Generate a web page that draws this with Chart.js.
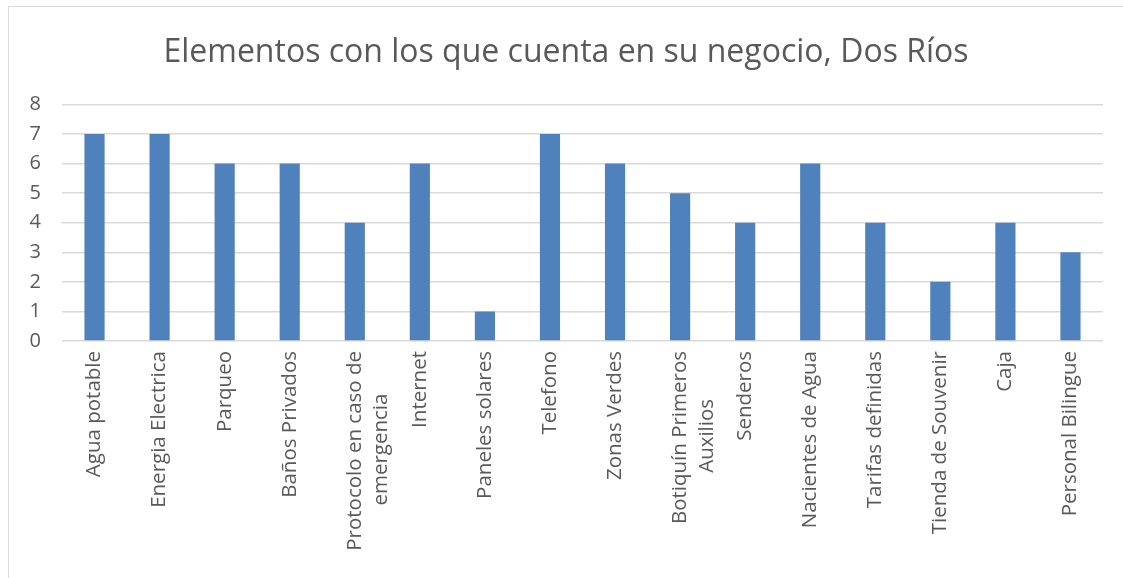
<!DOCTYPE html>
<html>
<head>
<meta charset="utf-8">
<script src="https://cdn.jsdelivr.net/npm/chart.js@4"></script>
<style>
  html, body { margin: 0; padding: 0; background: #ffffff; }
  #frame {
    position: absolute; left: 8px; top: 6px;
    width: 1114px; height: 571px;
    border-top: 1px solid #d9d9d9; border-left: 1px solid #d9d9d9;
  }
</style>
</head>
<body>
<div id="frame"><canvas id="chart"></canvas></div>
<script>
// Categories (two labels wrap onto two lines as in the original)
const categories = [
    'Agua potable',
    'Energia Electrica',
    'Parqueo',
    'Baños Privados',
    ['Protocolo en caso de', 'emergencia'],
    'Internet',
    'Paneles solares',
    'Telefono',
    'Zonas Verdes',
    ['Botiquín Primeros', 'Auxilios'],
    'Senderos',
    'Nacientes de Agua',
    'Tarifas definidas',
    'Tienda de Souvenir',
    'Caja',
    'Personal Bilingue'
];
const counts = [7, 7, 6, 6, 4, 6, 1, 7, 6, 5, 4, 6, 4, 2, 4, 3];
const chartTitle = 'Elementos con los que cuenta en su negocio, Dos Ríos';

const textGrey = '#595959';
const gridGrey = '#d9d9d9';
const fontFamily = '"Open Sans", "DejaVu Sans", sans-serif';
const tickSize = 20.5;

// Chart.js right-aligns every line of a rotated label; pad the shorter
// lines with trailing spaces so wrapped lines sit centred like in Excel.
const measureCtx = document.createElement('canvas').getContext('2d');
measureCtx.font = tickSize + 'px ' + fontFamily;
function centreLines(label) {
    if (!Array.isArray(label)) return label;
    const widest = Math.max(...label.map(l => measureCtx.measureText(l).width));
    const space = measureCtx.measureText(' ').width;
    return label.map(l => {
        const n = Math.round((widest - measureCtx.measureText(l).width) / 2 / space);
        return l + ' '.repeat(n);
    });
}

new Chart(document.getElementById('chart').getContext('2d'), {
    type: 'bar',
    data: {
        labels: categories,
        datasets: [{
            label: 'Total',
            data: counts,
            backgroundColor: '#4f81bd',
            barPercentage: 0.31,
            categoryPercentage: 1.0
        }]
    },
    options: {
        responsive: true,
        maintainAspectRatio: false,
        animation: false,
        layout: { padding: 0 },
        scales: {
            x: {
                grid: { display: false, drawTicks: false },
                border: { display: false },
                ticks: {
                    color: textGrey,
                    font: { family: fontFamily, size: tickSize, lineHeight: 1.3 },
                    minRotation: 90,
                    maxRotation: 90,
                    autoSkip: false,
                    padding: 10,
                    callback: function(value, index) {
                        return centreLines(categories[index]);
                    }
                },
                afterFit: (scale) => { scale.height = 237; }
            },
            y: {
                min: 0,
                max: 8,
                grid: { color: gridGrey, lineWidth: 1.5, drawTicks: false },
                border: { display: false },
                ticks: {
                    stepSize: 1,
                    color: textGrey,
                    font: { family: fontFamily, size: 20 },
                    padding: 21
                },
                afterFit: (scale) => { scale.width = 53; }
            },
            // empty spacer on the right so the title stays centred on the whole frame
            yRight: {
                position: 'right',
                grid: { display: false, drawTicks: false },
                border: { display: false },
                ticks: { display: false },
                afterFit: (scale) => { scale.width = 20; }
            }
        },
        plugins: {
            legend: { display: false },
            tooltip: { enabled: false },
            title: {
                display: true,
                text: chartTitle,
                color: textGrey,
                font: { family: fontFamily, size: 32, weight: 'normal' },
                padding: { top: 27, bottom: 32 }
            }
        }
    }
});
</script>
</body>
</html>
